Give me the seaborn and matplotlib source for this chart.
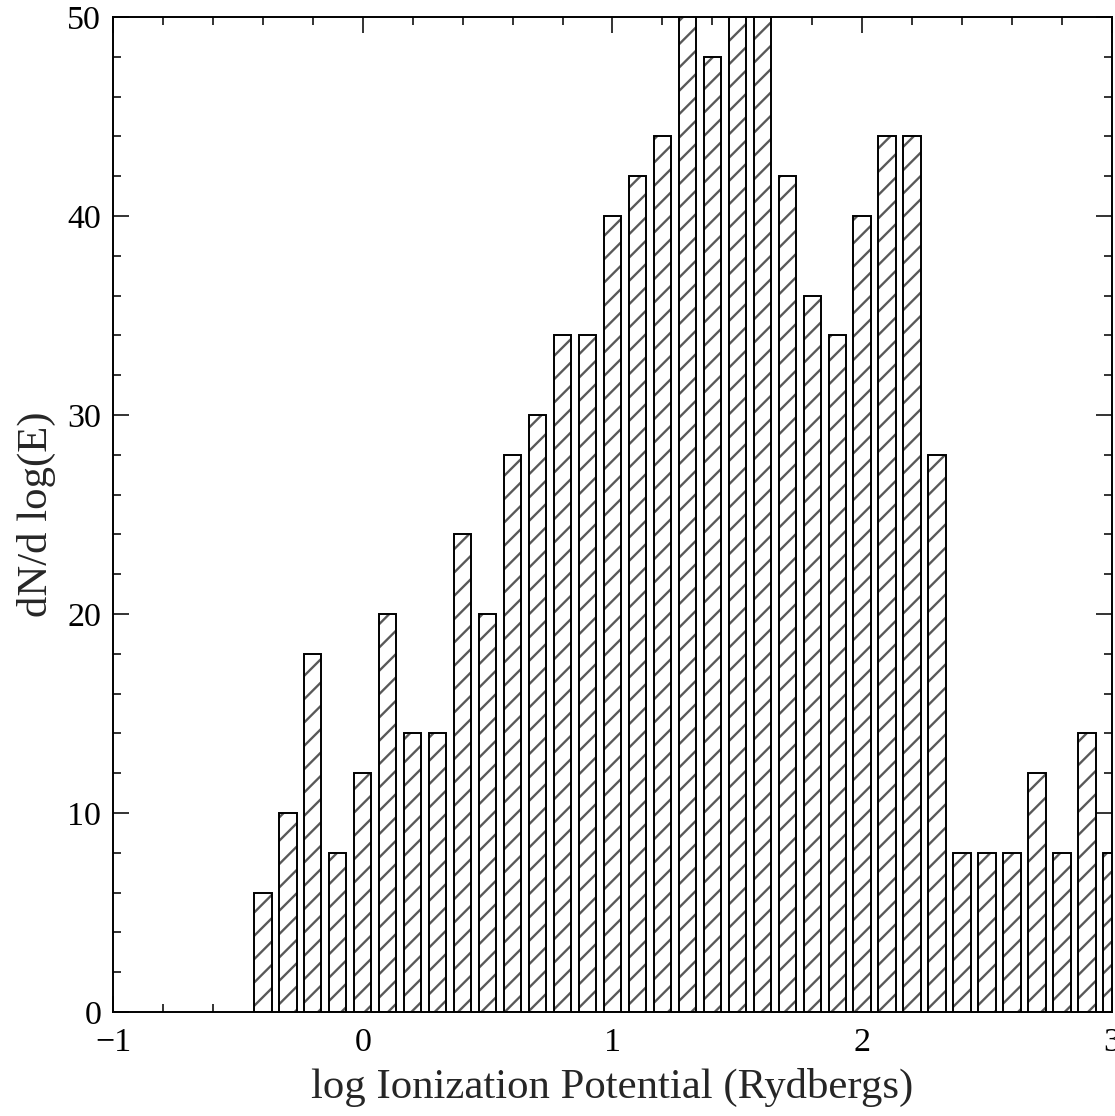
import matplotlib
matplotlib.use('Agg')
import matplotlib.pyplot as plt
import seaborn as sns
from matplotlib.ticker import MultipleLocator

# Bin centres (log Rydbergs) and histogram heights
log_energy = [-0.4, -0.3, -0.2, -0.1, 0.0, 0.1, 0.2, 0.3, 0.4, 0.5,
              0.6, 0.7, 0.8, 0.9, 1.0, 1.1, 1.2, 1.3, 1.4, 1.5,
              1.6, 1.7, 1.8, 1.9, 2.0, 2.1, 2.2, 2.3, 2.4, 2.5,
              2.6, 2.7, 2.8, 2.9, 3.0]
dn_dloge = [6, 10, 18, 8, 12, 20, 14, 14, 24, 20,
            28, 30, 34, 34, 40, 42, 44, 52, 48, 54,
            52, 42, 36, 34, 40, 44, 44, 28, 8, 8,
            8, 12, 8, 14, 8]

sns.set_style('ticks')
plt.rcParams['font.family'] = ['Liberation Serif', 'DejaVu Serif']
plt.rcParams['hatch.linewidth'] = 1.2

fig = plt.figure(figsize=(1115 / 140, 1116 / 140), dpi=140)
ax = fig.add_axes([0.1013, 0.0932, 0.896, 0.8916])

# hatched fill
sns.barplot(x=log_energy, y=dn_dloge, native_scale=True, errorbar=None,
            color='white', saturation=1, width=0.7, edgecolor='0.35',
            linewidth=0, hatch='//', ax=ax)
# black outlines
sns.barplot(x=log_energy, y=dn_dloge, native_scale=True, errorbar=None,
            color='black', fill=False, width=0.7, linewidth=1.0, ax=ax)

ax.set_xlim(-1, 3)
ax.set_ylim(0, 50)
ax.xaxis.set_major_locator(MultipleLocator(1))
ax.xaxis.set_minor_locator(MultipleLocator(0.2))
ax.yaxis.set_major_locator(MultipleLocator(10))
ax.yaxis.set_minor_locator(MultipleLocator(2))
ax.tick_params(which='both', direction='in', top=True, right=True,
               width=0.8, colors='black', labelsize=17.5)
ax.tick_params(which='major', length=8)
ax.tick_params(which='minor', length=4)
ax.tick_params(axis='x', pad=8)
ax.tick_params(axis='y', pad=6)
for s in ax.spines.values():
    s.set_linewidth(1.0)
    s.set_color('black')

ax.set_xlabel('log Ionization Potential (Rydbergs)', fontsize=22, labelpad=5)
ax.set_ylabel('dN/d log(E)', fontsize=22, labelpad=6)

fig.savefig('out.png', dpi=140)
